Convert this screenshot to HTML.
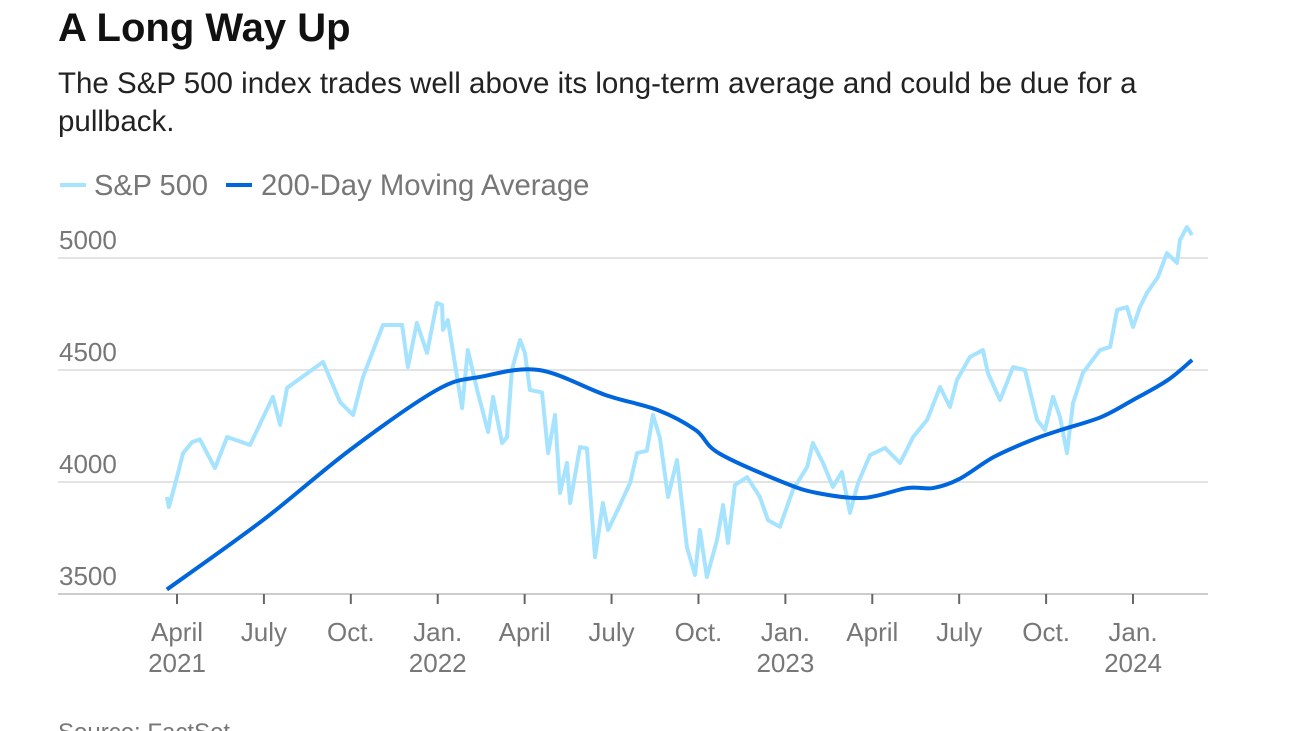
<!DOCTYPE html>
<html><head><meta charset="utf-8"><style>
body{margin:0;width:1292px;height:731px;overflow:hidden;background:#fff;font-family:"Liberation Sans",sans-serif}
svg{position:absolute;left:0;top:0}
</style></head><body>
<svg width="1292" height="731">
<text x="58" y="41" font-size="40" font-weight="bold" fill="#111">A Long Way Up</text>
<text x="58" y="93" font-size="29.5" fill="#222">The S&amp;P 500 index trades well above its long-term average and could be due for a</text>
<text x="58" y="131" font-size="29.5" fill="#222">pullback.</text>
<g><line x1="60" y1="185" x2="86" y2="185" stroke="#a6e3ff" stroke-width="4"/><text x="94" y="195" font-size="29" fill="#777">S&amp;P 500</text></g>
<g><line x1="226" y1="185" x2="252" y2="185" stroke="#0066dd" stroke-width="4"/><text x="261" y="195" font-size="29.3" fill="#777">200-Day Moving Average</text></g>
<g id="grid"></g><g id="xaxis"></g><g id="series"></g>
<text x="58" y="740" font-size="24" fill="#777">Source: FactSet</text>
</svg>
<script>
const yTicks=[3500,4000,4500,5000];
const xTickLabels=[["April","2021"],["July",""],["Oct.",""],["Jan.","2022"],["April",""],["July",""],["Oct.",""],["Jan.","2023"],["April",""],["July",""],["Oct.",""],["Jan.","2024"]];
const spMonths=[-0.35,-0.28,0,0.21,0.52,0.79,1.31,1.73,2.52,3.31,3.56,3.80,4.42,5.04,5.63,6.08,6.42,7.11,7.77,7.97,8.28,8.63,8.97,9.15,9.18,9.35,9.84,10.04,10.36,10.74,10.91,11.22,11.39,11.56,11.84,12.01,12.18,12.60,12.81,13.05,13.22,13.46,13.57,13.91,14.15,14.43,14.70,14.88,15.29,15.64,15.88,16.22,16.43,16.67,16.95,17.26,17.60,17.88,18.05,18.29,18.64,18.85,19.02,19.26,19.68,20.12,20.40,20.81,21.26,21.75,21.95,22.30,22.64,22.95,23.23,23.51,23.92,24.44,24.96,25.41,25.89,26.34,26.68,26.92,27.37,27.82,27.99,28.41,28.86,29.27,29.69,29.96,30.24,30.48,30.72,30.93,31.27,31.86,32.21,32.45,32.79,33.00,33.24,33.48,33.86,34.17,34.52,34.62,34.86,35.04];
const spValues=[3933,3888,4022,4129,4178,4190,4062,4201,4165,4380,4255,4420,4478,4536,4357,4299,4469,4701,4701,4513,4710,4576,4799,4790,4679,4723,4330,4589,4411,4223,4380,4174,4200,4500,4634,4576,4411,4400,4129,4299,3951,4085,3906,4156,4150,3665,3906,3786,3897,3996,4129,4140,4299,4196,3933,4098,3710,3585,3786,3576,3741,3897,3728,3987,4022,3933,3830,3800,3964,4067,4174,4085,3978,4045,3862,3996,4120,4152,4085,4201,4277,4424,4335,4455,4558,4589,4487,4366,4513,4500,4277,4232,4380,4290,4129,4353,4487,4589,4603,4768,4781,4692,4781,4844,4915,5022,4978,5080,5138,5103];
const maMonths=[-0.35,2.97,5.97,8.97,10.5,12.5,14.8,16.6,17.9,18.7,20.9,22.1,23.7,25.2,26.1,27.0,28.2,29.5,30.5,31.9,33.0,34.2,35.04];
const maValues=[3520,3830,4143,4411,4470,4500,4388,4321,4232,4129,4000,3951,3929,3973,3973,4013,4112,4187,4232,4290,4366,4455,4545];
const X=m=>177+m*28.97, Y=v=>594-(v-3500)*112/500;
const NS="http://www.w3.org/2000/svg";
function mk(t,a,p){const e=document.createElementNS(NS,t);for(const k in a)e.setAttribute(k,a[k]);p.appendChild(e);return e;}
function smooth(pts){let d='M'+pts[0][0]+','+pts[0][1];for(let i=0;i<pts.length-1;i++){const p0=pts[i-1]||pts[i],p1=pts[i],p2=pts[i+1],p3=pts[i+2]||p2;
 d+=' C'+(p1[0]+(p2[0]-p0[0])/6)+','+(p1[1]+(p2[1]-p0[1])/6)+' '+(p2[0]-(p3[0]-p1[0])/6)+','+(p2[1]-(p3[1]-p1[1])/6)+' '+p2[0]+','+p2[1];}return d;}
const grid=document.getElementById('grid'),xa=document.getElementById('xaxis'),se=document.getElementById('series');
yTicks.forEach(v=>{
 const l=mk('line',{x1:58,x2:1208,y1:Y(v),y2:Y(v),stroke:v===3500?'#ccc':'#e3e3e3','stroke-width':2},grid);
 
 
 const t=mk('text',{x:59,y:Y(v)-9,'font-size':26,fill:'#777'},grid);t.textContent=v;
 
 
});
xTickLabels.forEach((lab,i)=>{
 const x=X(i*3);
 const tk=mk('line',{x1:x,x2:x,y1:594,y2:604,stroke:'#666','stroke-width':2},xa);
 
 
 const t=mk('text',{x:x,y:641,'font-size':26,fill:'#777','text-anchor':'middle'},xa);t.textContent=lab[0];
 
 
 if(lab[1]){const t2=mk('text',{x:x,y:672,'font-size':26,fill:'#777','text-anchor':'middle'},xa);t2.textContent=lab[1];
 
 }
});
const sp=mk('polyline',{points:spMonths.map((m,i)=>X(m)+','+Y(spValues[i])).join(' '),fill:'none',stroke:'#a6e3ff','stroke-width':4,'stroke-linejoin':'round'},se);


const ma=mk('path',{d:smooth(maMonths.map((m,i)=>[X(m),Y(maValues[i])])),fill:'none',stroke:'#0066dd','stroke-width':4,'stroke-linejoin':'round'},se);


</script>
</body></html>
